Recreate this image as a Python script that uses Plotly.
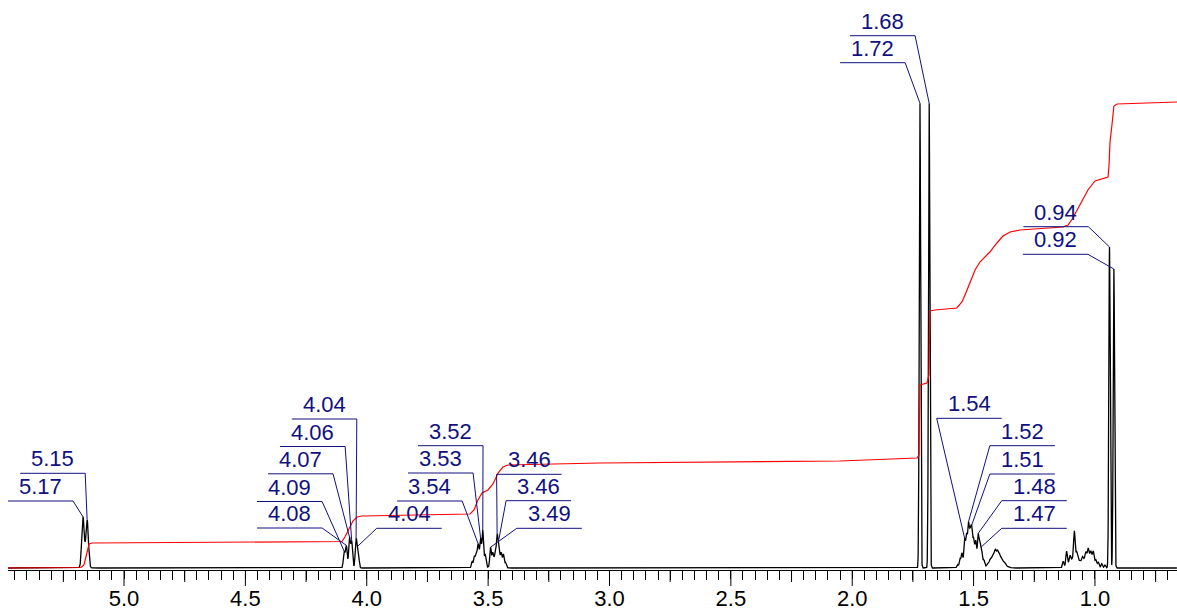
import numpy as np
import plotly.graph_objects as go

# ---------------------------------------------------------------------------
# 1H NMR spectrum: line list (centre in ppm, height in a.u., gaussian sigma in ppm).
# Broad entries describe the unresolved envelopes under the multiplets.
# ---------------------------------------------------------------------------
peak_ppm = [
    # OCH2 doublet
    5.169, 5.152,
    # 4.04 - 4.09 multiplet
    4.093, 4.084, 4.071, 4.062, 4.044, 4.036,
    # 3.51 - 3.57 multiplet (envelope + lines)
    3.535, 3.566, 3.557, 3.549, 3.541, 3.531, 3.522, 3.512,
    # 3.42 - 3.50 multiplet (envelope + lines)
    3.465, 3.490, 3.481, 3.471, 3.463, 3.456, 3.446, 3.437, 3.428,
    # methyl singlets
    1.721, 1.683,
    # 1.46 - 1.57 multiplet (envelope + lines)
    1.510, 1.566, 1.556, 1.548, 1.537, 1.529, 1.521, 1.514, 1.508, 1.500,
    1.491, 1.481, 1.474, 1.467, 1.458,
    # 1.35 - 1.45 multiplet (envelope + lines)
    1.405, 1.440, 1.430, 1.420, 1.411, 1.402, 1.393, 1.383, 1.372,
    # 0.96 - 1.14 multiplet (envelopes + lines)
    1.085, 1.025, 1.131, 1.117, 1.103, 1.085, 1.075, 1.051, 1.038, 1.028,
    1.017, 1.007, 0.996, 0.986, 0.972, 0.959,
    # methyl doublet
    0.940, 0.922,
]
peak_height = [
    51, 48,
    16, 22, 30, 26, 28, 20,
    10, 6, 10, 11, 15, 20, 32, 12,
    9, 18, 10, 6, 24, 19, 11, 12, 5,
    466, 466,
    18, 3, 8, 12, 22, 22, 29, 18, 22, 14,
    16, 27, 20, 18, 7,
    13, 2, 3, 4, 6, 5, 3, 2, 2,
    10, 12, 6, 14, 6, 27, 7, 4, 6, 8,
    6, 9, 4, 4, 4, 3,
    321, 299,
]
peak_sigma = (
    [0.0052] * 2
    + [0.0035] * 6
    + [0.012] + [0.0030] * 7
    + [0.016] + [0.0030] * 8
    + [0.0028] * 2
    + [0.020] + [0.0030] * 14
    + [0.022] + [0.0032] * 8
    + [0.020, 0.020] + [0.0030] * 14
    + [0.0028] * 2
)

# Picked peaks carrying a shift label (ppm of the picked line)
labelled_ppm = [
    5.152, 5.169,
    4.044, 4.062, 4.071, 4.093, 4.084, 4.036,
    3.522, 3.531, 3.541, 3.463, 3.456, 3.490,
    1.683, 1.721,
    1.537, 1.521, 1.508, 1.481, 1.467,
    0.940, 0.922,
]

# Integral trace (ppm, a.u.)
integral_ppm = [
    5.478, 5.177, 5.165, 5.157, 5.144, 5.132, 4.131, 4.102, 4.090, 4.073,
    4.057, 4.040, 4.020, 3.575, 3.558, 3.542, 3.525, 3.501, 3.480, 3.459,
    3.439, 3.418, 3.039, 2.050, 1.733, 1.725, 1.721, 1.692, 1.684, 1.680,
    1.659, 1.569, 1.548, 1.532, 1.515, 1.494, 1.474, 1.453, 1.433, 1.404,
    1.379, 1.350, 1.309, 1.132, 1.111, 1.091, 1.062, 1.029, 1.000, 0.975,
    0.946, 0.942, 0.938, 0.930, 0.922, 0.909, 0.662,
]
integral_value = [
    0, 0.5, 3, 12, 24, 25, 27, 26.5, 31, 39,
    47, 51, 52, 54, 58, 68, 75, 78, 84, 95,
    101, 103, 105, 107, 110, 113, 183, 185, 193, 257,
    258, 260, 266, 275, 285, 298, 306, 311, 316, 325,
    332, 336, 338, 341, 343, 350, 363, 378, 387, 389,
    391, 403, 426, 443, 462, 464, 466,
]

# ---------------------------------------------------------------------------
# Label placement: left edge of the underline (ppm), underline level (a.u.),
# and which end of the underline the leader leaves from
# ---------------------------------------------------------------------------
label_left = [
    5.428, 5.478,
    4.309, 4.357, 4.407, 4.452, 4.452, 3.959,
    3.789, 3.830, 3.875, 3.465, 3.426, 3.382,
    2.009, 2.050,
    1.652, 1.433, 1.433, 1.384, 1.384,
    1.295, 1.297,
]
label_level = [
    94.7, 67.0,
    149.0, 121.5, 94.2, 66.5, 40.0, 39.7,
    122.3, 95.0, 67.0, 93.7, 67.3, 39.7,
    532.3, 505.3,
    149.7, 122.3, 94.0, 67.3, 39.7,
    341.3, 313.7,
]
label_side = [
    "R", "R",
    "R", "R", "R", "R", "R", "L",
    "R", "R", "R", "L", "L", "L",
    "R", "R",
    "L", "L", "L", "L", "L",
    "R", "R",
]
UNDERLINE_WIDTH = 0.268  # ppm

X_RANGE = [5.478, 0.662]
LABEL_COLOR = "#10107f"
FONT = "Liberation Sans, Arial, sans-serif"
PLOT_H = 570  # px height of the plotting area

# ---------------------------------------------------------------------------
# Build the spectrum from the line list
# ---------------------------------------------------------------------------
ppm = np.arange(X_RANGE[0], X_RANGE[1], -0.0004)
intensity = np.zeros_like(ppm)
for c, h, s in zip(peak_ppm, peak_height, peak_sigma):
    intensity += h * np.exp(-0.5 * ((ppm - c) / s) ** 2)

fig = go.Figure()

fig.add_trace(go.Scatter(
    x=ppm, y=intensity, mode="lines",
    line=dict(color="black", width=1.3), hoverinfo="skip", showlegend=False,
))

fig.add_trace(go.Scatter(
    x=integral_ppm, y=integral_value, mode="lines",
    line=dict(color="#ff0000", width=1.2), hoverinfo="skip", showlegend=False,
))

# Leader lines: underline + connector to the top of the picked line
lx, ly = [], []
asc_ppm, asc_int = ppm[::-1], intensity[::-1]
for p, left, lev, side in zip(labelled_ppm, label_left, label_level, label_side):
    right = left - UNDERLINE_WIDTH
    top = float(np.interp(p, asc_ppm, asc_int))
    if side == "R":
        lx += [left, right, p, None]
    else:
        lx += [right, left, p, None]
    ly += [lev, lev, top, None]

fig.add_trace(go.Scatter(
    x=lx, y=ly, mode="lines",
    line=dict(color=LABEL_COLOR, width=1), hoverinfo="skip", showlegend=False,
))

for p, left, lev in zip(labelled_ppm, label_left, label_level):
    fig.add_annotation(
        x=left - UNDERLINE_WIDTH / 2, y=lev, xref="x", yref="y",
        text=f"{p:.2f}", showarrow=False, xanchor="center", yanchor="bottom",
        font=dict(family=FONT, size=22, color=LABEL_COLOR),
    )

# Longer marks: half-ppm (labelled) and quarter-ppm positions
for q in np.arange(1.0, 5.3, 0.5):
    fig.add_shape(type="line", xref="x", yref="paper", x0=q, x1=q,
                  y0=0, y1=-16 / PLOT_H, line=dict(color="black", width=1))
for q in np.arange(0.75, 5.3, 0.5):
    fig.add_shape(type="line", xref="x", yref="paper", x0=q, x1=q,
                  y0=0, y1=-12 / PLOT_H, line=dict(color="black", width=1))

fig.update_layout(
    width=1177, height=610,
    margin=dict(l=8, r=0, t=0, b=610 - PLOT_H, autoexpand=False),
    paper_bgcolor="white", plot_bgcolor="white",
    xaxis=dict(
        range=X_RANGE, showgrid=False, zeroline=False, automargin=False,
        showline=True, linecolor="black", linewidth=1.2,
        ticks="outside", tick0=0, dtick=0.5, ticklen=8, tickwidth=1,
        tickcolor="black", tickformat=".1f",
        tickfont=dict(family=FONT, size=22, color="black"),
        minor=dict(ticks="outside", dtick=0.05, ticklen=9, tickwidth=1,
                   tickcolor="black", showgrid=False),
    ),
    yaxis=dict(visible=False, range=[-2, 568], automargin=False),
)

fig.write_html("out.html")
